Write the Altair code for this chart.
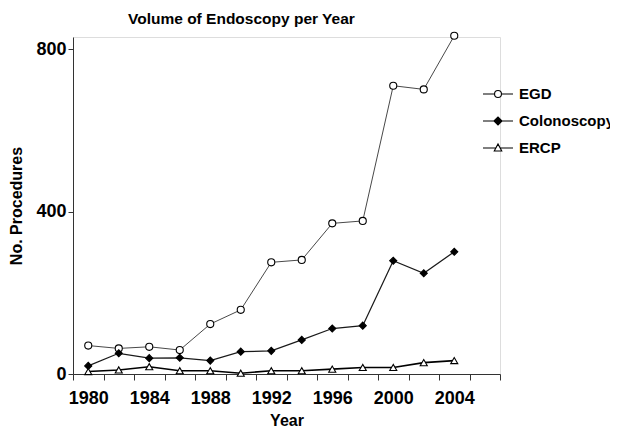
import altair as alt
import pandas as pd

years = [1980, 1982, 1984, 1986, 1988, 1990, 1992, 1994, 1996, 1998, 2000, 2002, 2004]
egd = [70, 63, 67, 59, 123, 158, 275, 281, 371, 377, 710, 701, 833]
colonoscopy = [20, 51, 39, 40, 33, 55, 57, 84, 112, 119, 279, 248, 301]
ercp = [6, 10, 18, 8, 8, 2, 8, 8, 12, 16, 16, 28, 33]
series_names = ["EGD", "Colonoscopy", "ERCP"]

rows = []
for name, vals in zip(series_names, [egd, colonoscopy, ercp]):
    for y, v in zip(years, vals):
        rows.append({"Year": y, "Procedures": v, "Series": name, "Key": name})
df = pd.DataFrame(rows)

FONT = "Liberation Sans"

x = alt.X(
    "Year:Q",
    scale=alt.Scale(domain=[1979, 2007], nice=False, zero=False),
    axis=alt.Axis(
        title="Year",
        values=list(range(1979, 2008)),
        labelExpr="datum.value % 4 == 0 ? datum.value : ''",
        labelOverlap=False,
        tickOpacity={"condition": {"test": "datum.value % 2 == 1", "value": 1}, "value": 0},
        tickSize=6,
        labelPadding=9,
        grid=False,
        labelFont=FONT, labelFontSize=18, labelFontWeight="bold", labelColor="black",
        titleFont=FONT, titleFontSize=16, titleFontWeight="bold", titleColor="black",
        titlePadding=5,
        domainColor="#333", tickColor="#333",
    ),
)
y = alt.Y(
    "Procedures:Q",
    scale=alt.Scale(domain=[0, 830], nice=False),
    axis=alt.Axis(
        title="No. Procedures",
        values=[0, 400, 800],
        tickSize=5,
        labelPadding=2,
        grid=False,
        labelFont=FONT, labelFontSize=18, labelFontWeight="bold", labelColor="black",
        titleFont=FONT, titleFontSize=16, titleFontWeight="bold", titleColor="black",
        titlePadding=11,
        domainColor="#333", tickColor="#333",
    ),
)

order = series_names

# legend glyphs: short line with the marker in the middle (unit box -1..1)
legend_paths = [
    "M-1,0H-0.23M0.23,0H1M-0.23,0A0.23,0.23 0 1,1 0.23,0A0.23,0.23 0 1,1 -0.23,0Z",
    "M-1,0H1M-0.27,0L0,-0.27L0.27,0L0,0.27Z",
    "M-1,0H-0.15M0.15,0H1M-0.25,0.2L0,-0.27L0.25,0.2Z",
]

lines = alt.Chart(df).mark_line(color="black").encode(
    x=x, y=y,
    detail="Series:N",
    strokeWidth=alt.StrokeWidth(
        "Series:N", sort=order,
        scale=alt.Scale(domain=order, range=[0.9, 1.6, 1.1]),
        legend=None,
    ),
    strokeOpacity=alt.StrokeOpacity(
        "Series:N", sort=order,
        scale=alt.Scale(domain=order, range=[0.8, 1.0, 0.9]),
        legend=None,
    ),
)

points = alt.Chart(df).mark_point(filled=False, opacity=1, strokeWidth=1.1).encode(
    x=x, y=y,
    shape=alt.Shape(
        "Series:N", sort=order,
        scale=alt.Scale(domain=order, range=["circle", "diamond", "triangle-up"]),
        legend=None,
    ),
    fill=alt.Fill(
        "Series:N", sort=order,
        scale=alt.Scale(domain=order, range=["white", "black", "white"]),
        legend=None,
    ),
    stroke=alt.value("black"),
    size=alt.value(50),
)

key_legend = alt.Legend(
    title=None, orient="none", legendX=409, legendY=41,
    symbolSize=900, symbolStrokeWidth=1.1, symbolOffset=0,
    labelOffset=5, rowPadding=3,
    labelFontSize=15, labelFont=FONT, labelFontWeight="bold", labelColor="black",
)

key = alt.Chart(df).transform_filter("datum.Year < 0").mark_point(
    filled=False, opacity=1, strokeWidth=1.1
).encode(
    x=x, y=y,
    shape=alt.Shape(
        "Key:N", sort=order,
        scale=alt.Scale(domain=order, range=legend_paths),
        legend=key_legend,
    ),
    fill=alt.Fill(
        "Key:N", sort=order,
        scale=alt.Scale(domain=order, range=["white", "black", "white"]),
        legend=key_legend,
    ),
    stroke=alt.Stroke(
        "Key:N", sort=order,
        scale=alt.Scale(domain=order, range=["black", "black", "black"]),
        legend=key_legend,
    ),
    size=alt.value(900),
)

chart = alt.layer(lines, points, key).resolve_scale(
    shape="independent", fill="independent", stroke="independent"
).properties(
    width=427,
    height=337,
    padding={"left": 65, "top": 29, "right": 110, "bottom": 53},
    autosize=alt.AutoSizeParams(type="none"),
    title=alt.TitleParams(
        "Volume of Endoscopy per Year",
        anchor="start", frame="group", dx=55, offset=3,
        font=FONT, fontSize=15.5, fontWeight="bold", color="black",
    ),
).configure_view(stroke=None).configure(background="white")

chart.save("out.html", embed_options={"renderer": "svg", "actions": False})
